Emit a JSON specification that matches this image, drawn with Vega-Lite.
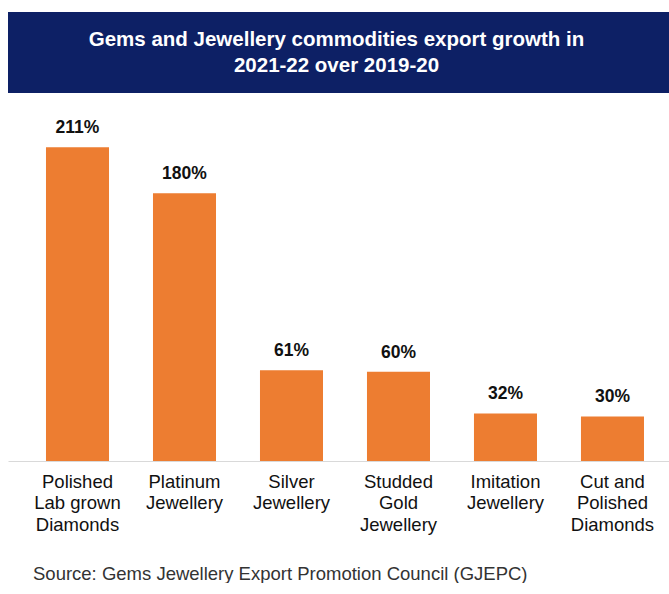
{
  "$schema": "https://vega.github.io/schema/vega-lite/v6.json",
  "padding": {"left": 8, "top": 12, "right": 0, "bottom": 0},
  "background": "white",
  "spacing": 11,
  "config": {"font": "Liberation Sans", "view": {"stroke": null}},
  "vconcat": [
    {
      "width": 661,
      "height": 81,
      "view": {"fill": "#0D2065", "stroke": null},
      "data": {"values": [{"k": "t", "title": "Gems and Jewellery commodities export growth in|2021-22 over 2019-20"}]},
      "mark": {"type": "text", "color": "white", "fontSize": 20.5, "fontWeight": "bold", "lineBreak": "|", "lineHeight": 26, "dx": -2, "dy": -13},
      "encoding": {
        "x": {"field": "k", "type": "nominal", "axis": null},
        "y": {"field": "k", "type": "nominal", "axis": null},
        "text": {"field": "title"}
      }
    },
    {
      "width": 661,
      "height": 357,
      "data": {"values": [
        {"cat": "Polished|Lab grown|Diamonds", "v": 211, "lbl": "211%"},
        {"cat": "Platinum|Jewellery", "v": 180, "lbl": "180%"},
        {"cat": "Silver|Jewellery", "v": 61, "lbl": "61%"},
        {"cat": "Studded|Gold|Jewellery", "v": 60, "lbl": "60%"},
        {"cat": "Imitation|Jewellery", "v": 32, "lbl": "32%"},
        {"cat": "Cut and|Polished|Diamonds", "v": 30, "lbl": "30%"}
      ]},
      "title": {"text": "Source: Gems Jewellery Export Promotion Council (GJEPC)", "orient": "bottom", "anchor": "start", "frame": "group", "fontSize": 18.5, "fontWeight": "normal", "color": "#333333", "dx": 25, "offset": 31},
      "encoding": {
        "x": {"field": "cat", "type": "nominal", "sort": null,
          "scale": {"paddingInner": 0.411, "paddingOuter": 0.2944, "align": 0.603},
          "axis": {"title": null, "labelAngle": 0, "ticks": false, "domain": true, "domainColor": "#D9D9D9", "labelFontSize": 18.5, "labelColor": "#111111", "labelLineHeight": 21.5, "labelPadding": 11, "labelExpr": "split(datum.label, '|')", "labelOverlap": false, "labelLimit": 0}}
      },
      "layer": [
        {"mark": {"type": "bar", "color": "#ED7D31"},
         "encoding": {"y": {"field": "v", "type": "quantitative", "scale": {"domain": [0, 240]}, "axis": null}}},
        {"mark": {"type": "text", "baseline": "bottom", "dy": -10, "fontSize": 17.5, "fontWeight": "bold", "color": "#111111"},
         "encoding": {"y": {"field": "v", "type": "quantitative"}, "text": {"field": "lbl"}}}
      ]
    }
  ]
}
